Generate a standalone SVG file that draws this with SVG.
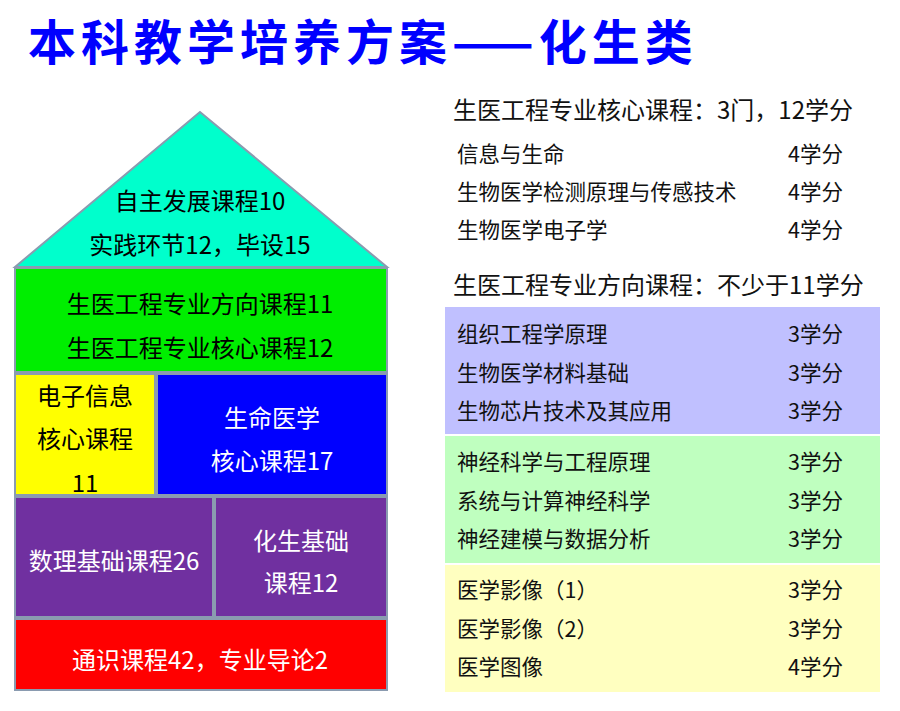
<svg xmlns="http://www.w3.org/2000/svg" width="900" height="711" viewBox="0 0 900 711">
<style>
text{font-family:"Noto Sans CJK SC","Liberation Sans",sans-serif}
.blk{stroke:#8a9bb0;stroke-width:2}
.c{font-size:24px;text-anchor:middle}
.r{font-size:21.5px;fill:#111}
.h{font-size:24px;fill:#111}
</style>
<rect width="900" height="711" fill="#fff"/>
<text x="28" y="60" font-size="48" font-weight="bold" fill="#0000FF" letter-spacing="5">本科教学培养方案——化生类</text>
<g id="roof"><polygon class="blk" points="200,112 15,267 387,267" fill="#00FFCC"/>
<text class="c" x="200" y="210">自主发展课程10</text><text class="c" x="200" y="254">实践环节12，毕设15</text></g>
<g id="green"><rect class="blk" x="15" y="268" width="372" height="104" fill="#00EE00"/>
<text class="c" x="200" y="313">生医工程专业方向课程11</text><text class="c" x="200" y="357">生医工程专业核心课程12</text></g>
<g id="yellow"><rect class="blk" x="15" y="374" width="140" height="121" fill="#FFFF00"/>
<text class="c" x="85" y="405">电子信息</text><text class="c" x="85" y="448">核心课程</text><text class="c" x="85" y="492">11</text></g>
<g id="blue"><rect class="blk" x="157" y="374" width="230" height="121" fill="#0000FF"/>
<text class="c" x="272" y="427" fill="#fff">生命医学</text><text class="c" x="272" y="470" fill="#fff">核心课程17</text></g>
<g id="math"><rect class="blk" x="15" y="497" width="198" height="120" fill="#7030A0"/>
<text class="c" x="114" y="570" fill="#fff">数理基础课程26</text></g>
<g id="chem"><rect class="blk" x="215" y="497" width="172" height="120" fill="#7030A0"/>
<text class="c" x="301" y="550" fill="#fff">化生基础</text><text class="c" x="301" y="592" fill="#fff">课程12</text></g>
<g id="general"><rect class="blk" x="15" y="619" width="372" height="71" fill="#FF0000"/>
<text class="c" x="200" y="669" fill="#fff">通识课程42，专业导论2</text></g>
<g id="core">
<text class="h" x="453" y="119">生医工程专业核心课程：3门，12学分</text>
<text class="r" x="457" y="162">信息与生命</text><text class="r" x="788" y="162">4学分</text>
<text class="r" x="457" y="200">生物医学检测原理与传感技术</text><text class="r" x="788" y="200">4学分</text>
<text class="r" x="457" y="238">生物医学电子学</text><text class="r" x="788" y="238">4学分</text>
<text class="h" x="453" y="294">生医工程专业方向课程：不少于11学分</text></g>
<g id="dir1"><rect x="445" y="307" width="435" height="127" fill="#C0C0FF"/>
<text class="r" x="457" y="342">组织工程学原理</text><text class="r" x="788" y="342">3学分</text>
<text class="r" x="457" y="381">生物医学材料基础</text><text class="r" x="788" y="381">3学分</text>
<text class="r" x="457" y="419">生物芯片技术及其应用</text><text class="r" x="788" y="419">3学分</text></g>
<g id="dir2"><rect x="445" y="436" width="435" height="127" fill="#BFFFBF"/>
<text class="r" x="457" y="470">神经科学与工程原理</text><text class="r" x="788" y="470">3学分</text>
<text class="r" x="457" y="509">系统与计算神经科学</text><text class="r" x="788" y="509">3学分</text>
<text class="r" x="457" y="547">神经建模与数据分析</text><text class="r" x="788" y="547">3学分</text></g>
<g id="dir3"><rect x="445" y="565" width="435" height="127" fill="#FFFFC0"/>
<text class="r" x="457" y="598">医学影像（1）</text><text class="r" x="788" y="598">3学分</text>
<text class="r" x="457" y="637">医学影像（2）</text><text class="r" x="788" y="637">3学分</text>
<text class="r" x="457" y="675">医学图像</text><text class="r" x="788" y="675">4学分</text></g>
<g id="connectors"/>
</svg>
